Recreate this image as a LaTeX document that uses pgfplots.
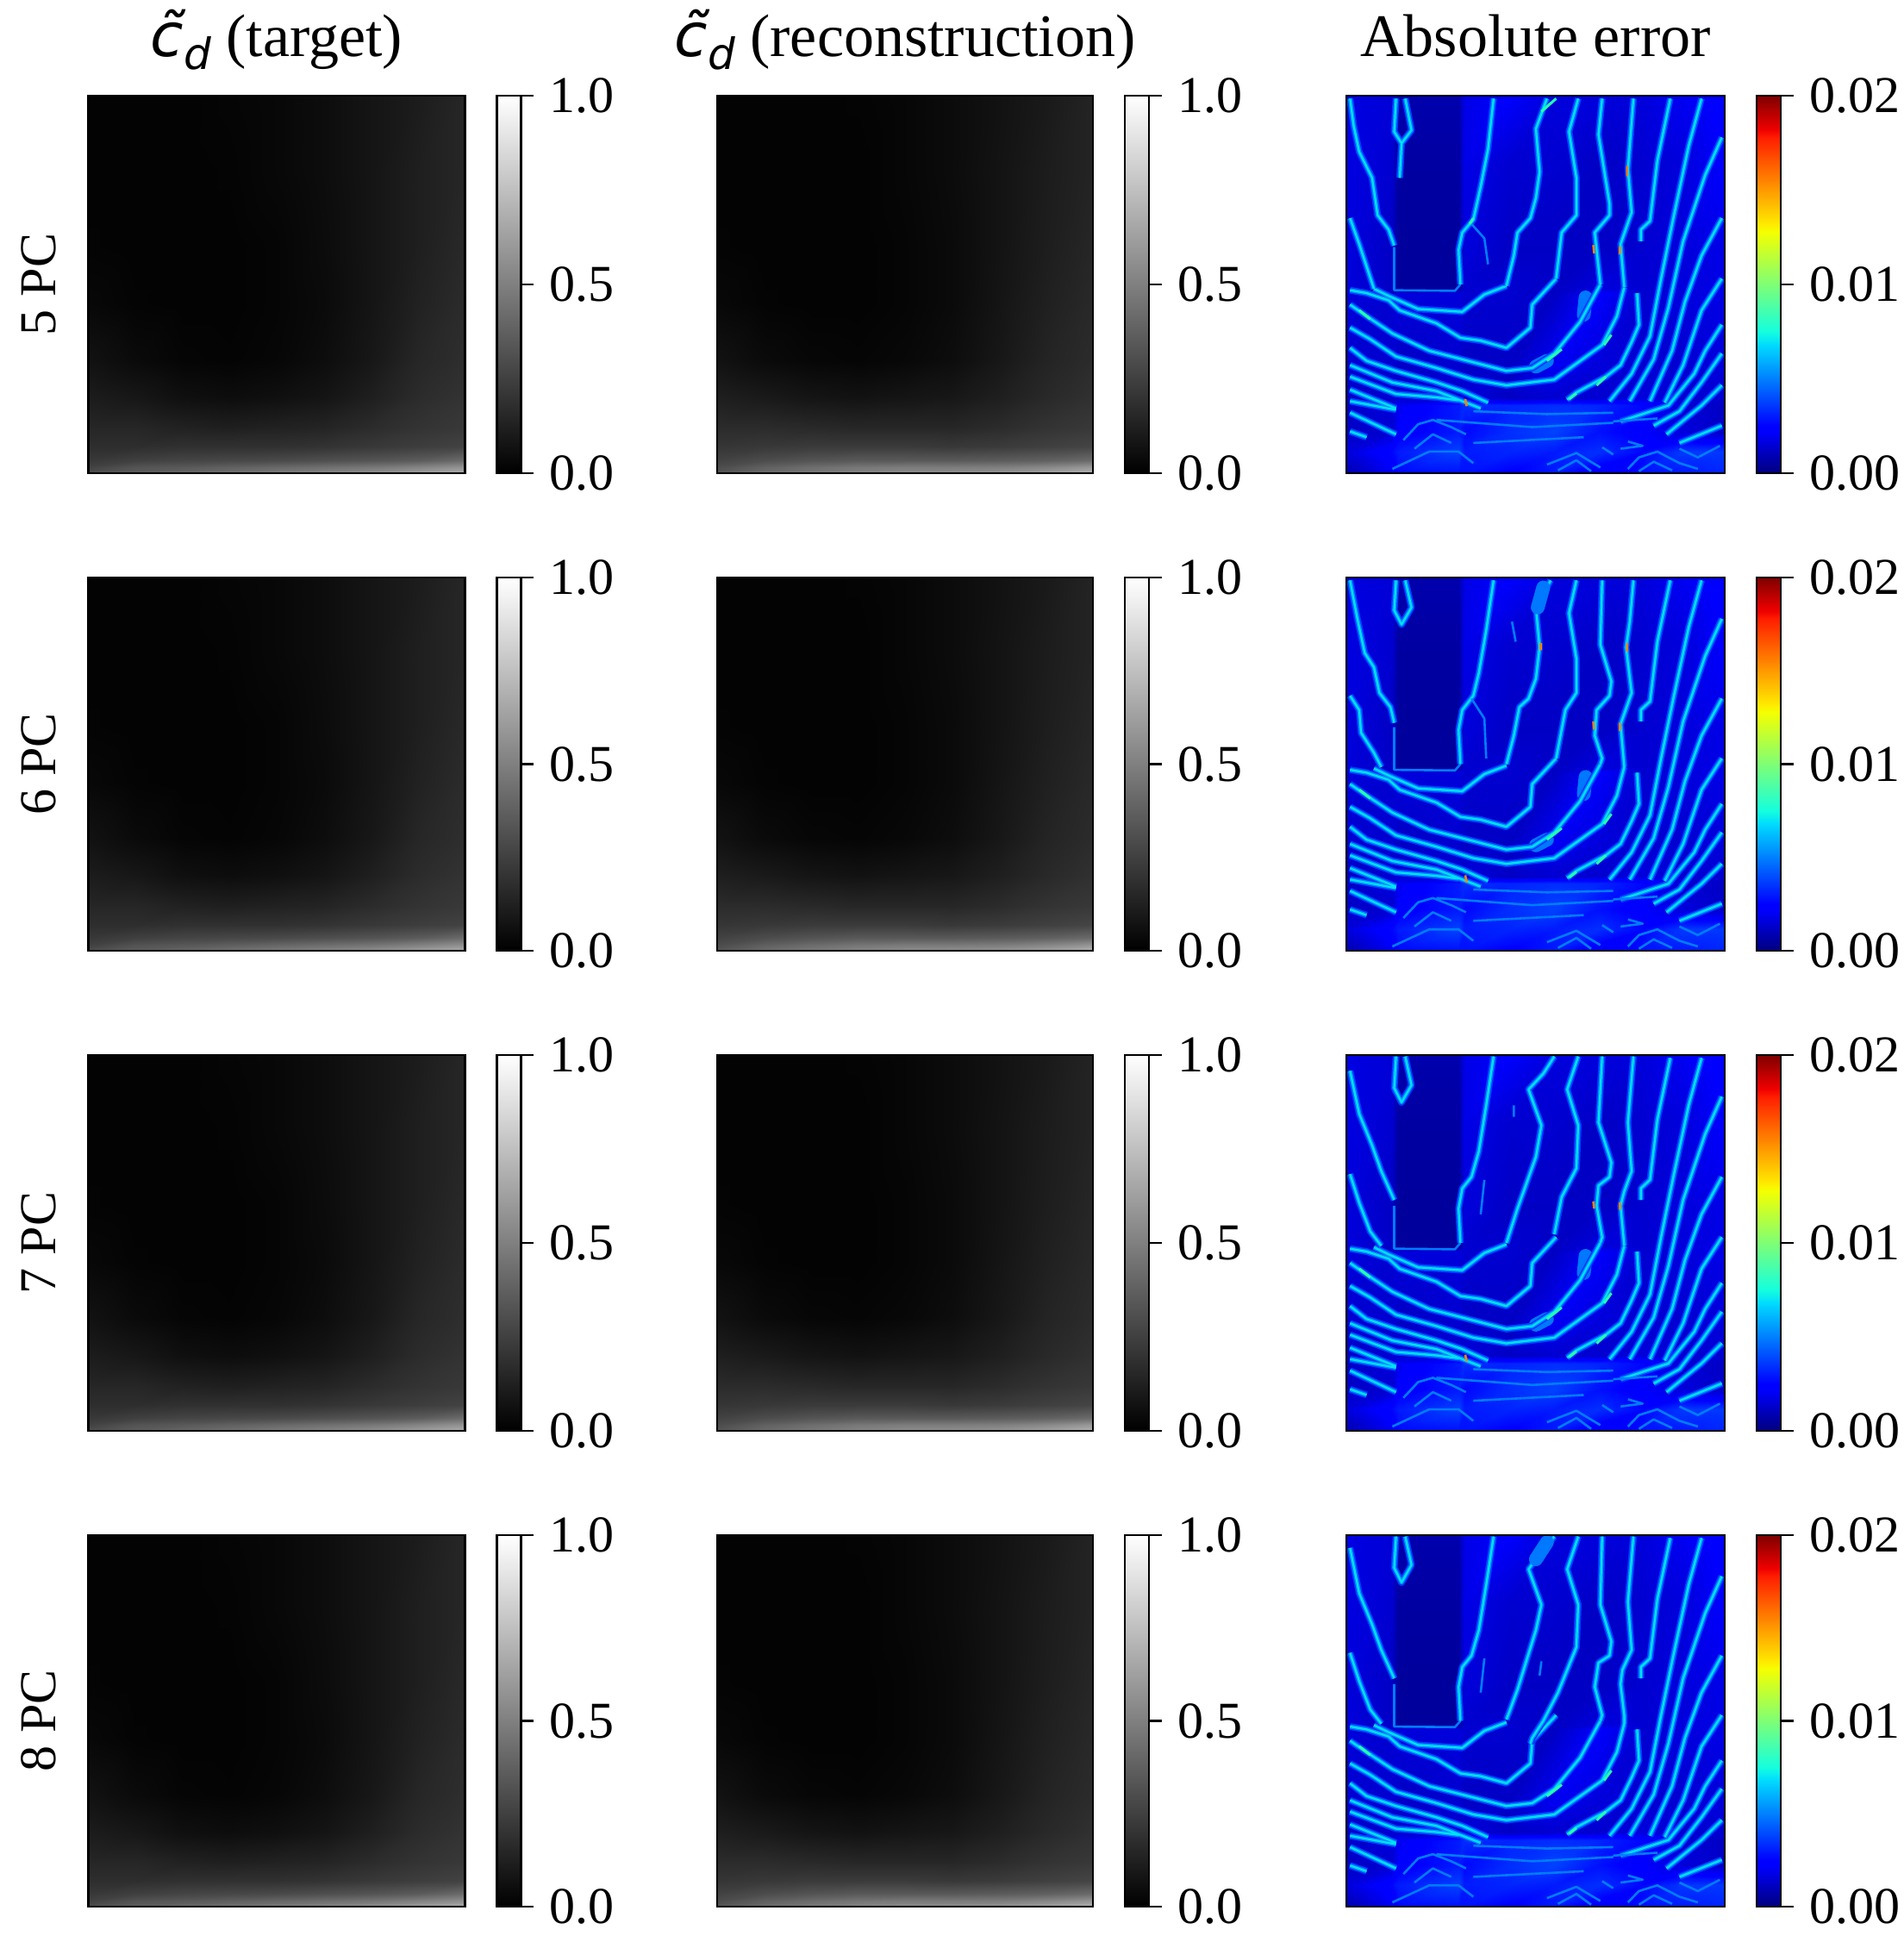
\documentclass[border=0pt]{standalone}
\usepackage{fontspec}
\usepackage{pgfplots}
\usepackage{pgfplotstable}
\pgfplotsset{compat=1.18}
\setmainfont{Liberation Serif}
\newfontfamily\dv{DejaVu Sans}
\newcommand{\fT}{\fontsize{35}{40}\selectfont}
\newcommand{\fK}{\fontsize{30}{34}\selectfont}
\newcommand{\cd}{{\dv\itshape c̃\raisebox{-0.22em}{\fontsize{25}{25}\selectfont d}}}

\pgfplotsset{
 colormap={mygray}{gray(0cm)=(0); gray(100cm)=(1)},
 colormap={myjet}{rgb255(0cm)=(0,0,127); rgb255(11cm)=(0,0,255); rgb255(12.5cm)=(0,0,255); rgb255(34cm)=(0,219,255); rgb255(37.5cm)=(20,255,222); rgb255(64cm)=(245,255,0); rgb255(66cm)=(255,234,0); rgb255(89cm)=(255,29,0); rgb255(91cm)=(240,0,0); rgb255(100cm)=(127,0,0)},
 base/.style n args={4}{at={(#1pt,-#2pt)},anchor=north west,scale only axis,width=#3pt,height=#4pt,
  y dir=reverse,xtick=\empty,ytick=\empty,axis on top,enlargelimits=false,
  axis line style={line width=1.4pt,black},
  title style={at={(0.5,1)},anchor=base,yshift=17pt,font=\fT,inner sep=0pt},
  ylabel style={at={(axis description cs:-0.087,0.5)},anchor=base,rotate=0,font=\fK,inner sep=0pt},
  colorbar,
  colorbar style={at={(parent axis.north east)},anchor=north west,xshift=10pt,scale only axis,
   width=14pt,height=#4pt,y dir=normal,enlargelimits=false,
   axis line style={line width=1.2pt,black},
   xtick=\empty,ytick pos=right,yticklabel pos=right,tick align=outside,
   major tick length=7.5pt,tick style={black,line width=1.2pt},
   yticklabel style={font=\fK,inner sep=0pt,anchor=west,xshift=9pt},
  }},
 gr/.style n args={4}{base={#1}{#2}{#3}{#4},colormap name=mygray,point meta min=0,point meta max=1,
   xmin=0,xmax=1,ymin=0,ymax=1,
   colorbar style={ytick={0,0.5,1},yticklabels={0.0,0.5,1.0}}},
 er/.style n args={4}{base={#1}{#2}{#3}{#4},colormap name=myjet,point meta min=0,point meta max=0.02,
   xmin=55,xmax=1083,ymin=65,ymax=1375,
   colorbar style={ytick={0,0.01,0.02},yticklabels={0.00,0.01,0.02},scaled y ticks=false}},
 glow/.style={color={rgb,255:red,0;green,55;blue,255},line width=4pt,line join=round,unbounded coords=jump,forget plot},
 midl/.style={color={rgb,255:red,0;green,140;blue,255},line width=2.4pt,line join=round,unbounded coords=jump,forget plot},
 core/.style={color={rgb,255:red,0;green,225;blue,250},line width=1.1pt,line join=round,unbounded coords=jump,forget plot},
 faintl/.style={color={rgb,255:red,0;green,125;blue,255},line width=1.3pt,line join=round,unbounded coords=jump,forget plot},
 hot/.style={color={rgb,255:red,40;green,255;blue,170},line width=1.5pt,unbounded coords=jump,forget plot},
 spot/.style={color={rgb,255:red,255;green,130;blue,0},line width=1.3pt,unbounded coords=jump,forget plot},
 blob/.style={color={rgb,255:red,0;green,120;blue,255},line width=8pt,line cap=round,unbounded coords=jump,forget plot},
 hm/.style={surf,shader=interp,mesh/cols=#1,forget plot},
}
\newcommand{\lns}[1]{\addplot[glow] coordinates {#1};\addplot[midl] coordinates {#1};\addplot[core] coordinates {#1};}

\pgfplotstableread{
x y v
0 0 .01
.125 0 .01
.25 0 .01
.375 0 .02
.5 0 .03
.625 0 .05
.75 0 .08
.875 0 .11
1 0 .15
0 .2 .01
.125 .2 .01
.25 .2 .01
.375 .2 .015
.5 .2 .03
.625 .2 .05
.75 .2 .08
.875 .2 .12
1 .2 .15
0 .4 .015
.125 .4 .01
.25 .4 .01
.375 .4 .01
.5 .4 .02
.625 .4 .045
.75 .4 .08
.875 .4 .12
1 .4 .16
0 .55 .03
.125 .55 .015
.25 .55 .01
.375 .55 .01
.5 .55 .02
.625 .55 .04
.75 .55 .08
.875 .55 .13
1 .55 .17
0 .7 .07
.125 .7 .04
.25 .7 .02
.375 .7 .015
.5 .7 .025
.625 .7 .05
.75 .7 .09
.875 .7 .15
1 .7 .18
0 .8 .11
.125 .8 .09
.25 .8 .06
.375 .8 .05
.5 .8 .06
.625 .8 .08
.75 .8 .12
.875 .8 .17
1 .8 .2
0 .88 .15
.125 .88 .15
.25 .88 .13
.375 .88 .12
.5 .88 .13
.625 .88 .14
.75 .88 .17
.875 .88 .2
1 .88 .22
0 .93 .18
.125 .93 .18
.25 .93 .19
.375 .93 .19
.5 .93 .19
.625 .93 .2
.75 .93 .22
.875 .93 .24
1 .93 .26
0 .965 .22
.125 .965 .25
.25 .965 .27
.375 .965 .28
.5 .965 .29
.625 .965 .31
.75 .965 .33
.875 .965 .36
1 .965 .42
0 .985 .26
.125 .985 .33
.25 .985 .35
.375 .985 .38
.5 .985 .41
.625 .985 .44
.75 .985 .47
.875 .985 .52
1 .985 .58
0 1 .3
.125 1 .36
.25 1 .4
.375 1 .44
.5 1 .48
.625 1 .52
.75 1 .56
.875 1 .62
1 1 .68
}\Tgt

\pgfplotstableread{
x y v
0 0 .01
.125 0 .01
.25 0 .01
.375 0 .015
.5 0 .025
.625 0 .045
.75 0 .07
.875 0 .1
1 0 .14
0 .2 .01
.125 .2 .01
.25 .2 .01
.375 .2 .01
.5 .2 .025
.625 .2 .045
.75 .2 .075
.875 .2 .11
1 .2 .14
0 .4 .015
.125 .4 .01
.25 .4 .01
.375 .4 .01
.5 .4 .02
.625 .4 .04
.75 .4 .075
.875 .4 .115
1 .4 .15
0 .55 .03
.125 .55 .015
.25 .55 .01
.375 .55 .01
.5 .55 .02
.625 .55 .04
.75 .55 .08
.875 .55 .125
1 .55 .16
0 .7 .07
.125 .7 .04
.25 .7 .025
.375 .7 .02
.5 .7 .03
.625 .7 .05
.75 .7 .09
.875 .7 .14
1 .7 .17
0 .8 .12
.125 .8 .1
.25 .8 .08
.375 .8 .07
.5 .8 .08
.625 .8 .09
.75 .8 .12
.875 .8 .16
1 .8 .19
0 .88 .17
.125 .88 .17
.25 .88 .16
.375 .88 .15
.5 .88 .15
.625 .88 .15
.75 .88 .17
.875 .88 .2
1 .88 .22
0 .93 .21
.125 .93 .22
.25 .93 .23
.375 .93 .23
.5 .93 .23
.625 .93 .22
.75 .93 .23
.875 .93 .25
1 .93 .27
0 .965 .26
.125 .965 .3
.25 .965 .33
.375 .965 .35
.5 .965 .35
.625 .965 .35
.75 .965 .36
.875 .965 .38
1 .965 .42
0 .985 .3
.125 .985 .38
.25 .985 .43
.375 .985 .47
.5 .985 .49
.625 .985 .49
.75 .985 .5
.875 .985 .54
1 .985 .6
0 1 .33
.125 1 .42
.25 1 .47
.375 1 .52
.5 1 .55
.625 1 .56
.75 1 .58
.875 1 .63
1 1 .7
}\Rec

\pgfplotstableread{
x y v
55 65 .0017
180 65 .0015
195 65 .0008
360 65 .0008
375 65 .0018
500 65 .0022
620 65 .0016
740 65 .0016
860 65 .0016
970 65 .0020
1083 65 .0024
55 300 .0017
180 300 .0014
195 300 .0006
360 300 .0006
375 300 .0018
500 300 .0014
620 300 .0014
740 300 .0012
860 300 .0014
970 300 .0016
1083 300 .0022
55 600 .0016
180 600 .0012
195 600 .0005
360 600 .0005
375 600 .0016
500 600 .0012
620 600 .0012
740 600 .0012
860 600 .0014
970 600 .0016
1083 600 .0018
55 735 .0016
180 735 .0012
195 735 .0005
360 735 .0005
375 735 .0014
500 735 .0014
620 735 .0012
740 735 .0016
860 735 .0014
970 735 .0016
1083 735 .0018
55 750 .0016
180 750 .0014
195 750 .0016
360 750 .0016
375 750 .0014
500 750 .0014
620 750 .0012
740 750 .0022
860 750 .0014
970 750 .0016
1083 750 .0018
55 1000 .0014
180 1000 .0014
195 1000 .0012
360 1000 .0014
375 1000 .0012
500 1000 .0012
620 1000 .0020
740 1000 .0016
860 1000 .0014
970 1000 .0014
1083 1000 .0016
55 1115 .0012
180 1115 .0014
195 1115 .0014
360 1115 .0014
375 1115 .0016
500 1115 .0012
620 1115 .0014
740 1115 .0014
860 1115 .0016
970 1115 .0014
1083 1115 .0014
55 1140 .0012
180 1140 .0016
195 1140 .0020
360 1140 .0030
375 1140 .0034
500 1140 .0032
620 1140 .0034
740 1140 .0032
860 1140 .0026
970 1140 .0014
1083 1140 .0012
55 1230 .0012
180 1230 .0014
195 1230 .0022
360 1230 .0030
375 1230 .0026
500 1230 .0034
620 1230 .0038
740 1230 .0028
860 1230 .0022
970 1230 .0016
1083 1230 .0012
55 1300 .0016
180 1300 .0026
195 1300 .0030
360 1300 .0038
375 1300 .0030
500 1300 .0032
620 1300 .0030
740 1300 .0034
860 1300 .0026
970 1300 .0036
1083 1300 .0036
55 1375 .0008
180 1375 .0020
195 1375 .0026
360 1375 .0028
375 1375 .0028
500 1375 .0024
620 1375 .0030
740 1375 .0020
860 1375 .0028
970 1375 .0030
1083 1375 .0032
}\Bg

% ripples shared by the four error panels
\newcommand{\Blobs}{\addplot[blob] coordinates {(705,765)(700,825)(0,nan)(600,985)(570,1005)};}
\newcommand{\Shared}{%
\lns{(490,725)(430,755)(370,815)(250,805)(170,760)(130,735)(0,nan)
(625,700)(560,790)(555,870)(490,940)(420,915)(365,905)(300,855)(200,810)(170,775)(110,750)(65,740)(0,nan)
(745,720)(690,850)(620,960)(560,1010)(490,1020)(400,990)(280,950)(180,890)(110,830)(65,790)(0,nan)
(810,730)(790,830)(750,930)(620,1050)(490,1070)(400,1050)(300,1010)(190,970)(120,910)(65,870)(0,nan)
(65,940)(110,985)(190,1020)(300,1060)(370,1090)(440,1130)(0,nan)
(65,1000)(180,1060)(300,1090)(370,1125)(420,1150)(0,nan)
(65,1040)(190,1100)(300,1112)(360,1122)(0,nan)
(65,1085)(190,1150)(0,nan)
(65,1125)(190,1155)(0,nan)
(65,1165)(190,1240)(0,nan)
(65,1230)(110,1250)(0,nan)
(655,1120)(680,1095)(760,1040)(800,1000)(830,920)(850,860)(845,750)(0,nan)
(935,75)(900,290)(880,500)(855,530)(855,570)(0,nan)
(1020,75)(985,240)(945,480)(910,700)(880,900)(830,1030)(770,1125)(0,nan)
(1075,210)(1030,340)(970,570)(930,800)(890,980)(825,1125)(0,nan)
(1075,490)(1020,620)(975,780)(940,950)(880,1125)(0,nan)
(1075,700)(1020,810)(970,1000)(920,1130)(0,nan)
(1075,860)(1030,950)(1000,1030)(930,1140)(800,1195)(0,nan)
(1075,960)(1020,1060)(960,1160)(890,1210)(0,nan)
(1075,1070)(1020,1140)(925,1240)(0,nan)
(1075,1210)(960,1270)}
\addplot[faintl] coordinates {(365,720)(350,742)(185,740)(185,590)(0,nan)
(210,1260)(250,1205)(290,1190)(340,1215)(380,1240)(0,nan)
(240,1290)(290,1240)(340,1270)(0,nan)
(180,1360)(280,1300)(360,1300)(400,1340)(0,nan)
(600,1345)(680,1305)(745,1355)(0,nan)
(630,1365)(680,1330)(720,1368)(0,nan)
(820,1360)(850,1320)(900,1300)(960,1340)(1010,1360)(0,nan)
(850,1368)(890,1335)(940,1365)(0,nan)
(820,1265)(860,1280)(800,1290)(0,nan)
(750,1285)(780,1310)(0,nan)
(960,1290)(1010,1320)(1070,1280)(0,nan)
(400,1160)(600,1170)(780,1165)(0,nan)
(300,1190)(560,1215)(780,1200)(0,nan)
(780,1195)(900,1185)(0,nan)
(400,1270)(550,1260)(700,1250)};
\addplot[hot] coordinates {(90,810)(120,840)(0,nan)(755,930)(775,895)(0,nan)(600,985)(640,945)(0,nan)(660,1118)(680,1098)(0,nan)(735,1070)(760,1040)};
}
\newcommand{\TopA}{\lns{(65,75)(75,170)(90,260)(125,350)(140,480)(170,530)(185,585)(0,nan)
(190,75)(185,190)(205,230)(200,350)(0,nan)(215,75)(232,185)(205,230)(0,nan)
(455,75)(440,250)(420,380)(400,495)(370,540)(360,600)(365,720)(0,nan)
(600,75)(570,180)(580,330)(570,420)(555,490)(520,540)(510,620)(490,725)(0,nan)
(65,490)(90,580)(130,735)(0,nan)
(685,75)(660,190)(680,350)(680,480)(640,540)(625,700)(0,nan)
(750,75)(740,200)(770,440)(770,480)(730,540)(745,720)(0,nan)
(835,75)(820,320)(830,470)(800,580)(810,730)}
\addplot[faintl] coordinates {(395,510)(430,560)(440,650)};
\addplot[hot] coordinates {(625,75)(585,120)(0,nan)(400,490)(390,510)};
\addplot[spot] coordinates {(378,1118)(382,1142)(0,nan)(726,583)(728,612)(0,nan)(798,588)(798,616)(0,nan)(818,308)(818,345)};
}
\newcommand{\TopB}{\lns{(65,75)(85,210)(105,330)(130,380)(145,470)(175,520)(185,575)(0,nan)
(190,75)(185,180)(205,230)(232,170)(215,75)(0,nan)
(65,480)(90,530)(95,610)(130,680)(150,730)(0,nan)
(455,75)(435,250)(415,400)(400,480)(370,530)(360,600)(365,720)(0,nan)
(610,75)(570,170)(580,310)(570,420)(550,490)(525,520)(510,620)(490,720)(0,nan)
(680,75)(660,190)(680,350)(680,470)(650,530)(625,700)(0,nan)
(750,75)(745,300)(775,430)(770,480)(735,530)(730,620)(750,700)(745,720)(0,nan)
(835,75)(825,220)(815,310)(830,470)(800,580)(810,730)}
\addplot[faintl] coordinates {(505,220)(515,290)(0,nan)(395,490)(430,560)(435,700)};
\addplot[blob] coordinates {(590,100)(575,170)};
\addplot[spot] coordinates {(378,1110)(382,1135)(0,nan)(726,570)(728,598)(0,nan)(798,575)(798,603)(0,nan)(583,295)(583,320)(0,nan)(818,295)(818,325)};
}
\newcommand{\TopC}{\lns{(65,120)(90,270)(125,380)(150,470)(185,570)(0,nan)
(190,70)(185,180)(205,230)(232,170)(215,70)(0,nan)
(65,480)(90,580)(120,680)(150,730)(0,nan)
(455,70)(435,240)(415,400)(395,490)(370,530)(360,600)(365,720)(0,nan)
(620,70)(590,130)(550,185)(585,310)(570,420)(520,600)(490,720)(0,nan)
(685,70)(655,185)(685,310)(680,460)(640,560)(620,690)(0,nan)
(750,70)(740,300)(775,440)(770,490)(740,520)(735,590)(750,700)(745,720)(0,nan)
(835,70)(820,300)(830,470)(810,540)(800,590)(810,730)}
\addplot[faintl] coordinates {(510,240)(510,280)(0,nan)(430,500)(420,620)};
\addplot[spot] coordinates {(378,1110)(382,1132)(0,nan)(726,575)(728,600)(0,nan)(798,578)(798,604)};
}
\newcommand{\TopD}{\lns{(65,110)(90,270)(125,380)(150,470)(185,570)(0,nan)
(190,70)(185,180)(205,232)(232,170)(215,70)(0,nan)
(65,480)(90,580)(120,680)(150,730)(0,nan)
(455,70)(435,240)(415,400)(395,490)(370,530)(360,600)(365,720)(0,nan)
(620,70)(570,150)(550,185)(585,310)(570,400)(520,610)(490,715)(0,nan)
(685,70)(655,185)(685,310)(680,460)(630,620)(590,720)(560,780)(555,800)(0,nan)
(750,70)(745,310)(775,440)(770,490)(740,515)(730,600)(750,700)(745,720)(0,nan)
(835,70)(820,300)(830,470)(805,540)(800,590)(810,700)(810,730)}
\addplot[blob] coordinates {(600,90)(570,150)};
\addplot[faintl] coordinates {(430,500)(420,620)(0,nan)(585,510)(580,560)};
}

\begin{document}
\begin{tikzpicture}
\path[use as bounding box] (0,0) rectangle (1104pt,-1130pt);
% ---- row 1
\begin{axis}[gr={51.2}{55.5}{218.5}{219},title={\cd{} (target)},ylabel={5 PC}]
\addplot[hm=9,point meta=\thisrow{v}] table[x=x,y=y] \Tgt;
\end{axis}
\begin{axis}[gr={416}{55.5}{218}{219},title={\cd{} (reconstruction)}]
\addplot[hm=9,point meta=\thisrow{v}] table[x=x,y=y] \Rec;
\end{axis}
\begin{axis}[er={781}{55.5}{219.5}{219},title={Absolute error}]
\addplot[hm=11,point meta=\thisrow{v}] table[x=x,y=y] \Bg;
\Blobs\Shared\TopA
\end{axis}
% ---- row 2
\begin{axis}[gr={51.2}{335}{218.5}{216.5},ylabel={6 PC}]
\addplot[hm=9,point meta=\thisrow{v}] table[x=x,y=y] \Tgt;
\end{axis}
\begin{axis}[gr={416}{335}{218}{216.5}]
\addplot[hm=9,point meta=\thisrow{v}] table[x=x,y=y] \Rec;
\end{axis}
\begin{axis}[er={781}{335}{219.5}{216.5}]
\addplot[hm=11,point meta=\thisrow{v}] table[x=x,y=y] \Bg;
\Blobs\Shared\TopB
\end{axis}
% ---- row 3
\begin{axis}[gr={51.2}{612}{218.5}{218},ylabel={7 PC}]
\addplot[hm=9,point meta=\thisrow{v}] table[x=x,y=y] \Tgt;
\end{axis}
\begin{axis}[gr={416}{612}{218}{218}]
\addplot[hm=9,point meta=\thisrow{v}] table[x=x,y=y] \Rec;
\end{axis}
\begin{axis}[er={781}{612}{219.5}{218}]
\addplot[hm=11,point meta=\thisrow{v}] table[x=x,y=y] \Bg;
\Blobs\Shared\TopC
\end{axis}
% ---- row 4
\begin{axis}[gr={51.2}{890.5}{218.5}{215.5},ylabel={8 PC}]
\addplot[hm=9,point meta=\thisrow{v}] table[x=x,y=y] \Tgt;
\end{axis}
\begin{axis}[gr={416}{890.5}{218}{215.5}]
\addplot[hm=9,point meta=\thisrow{v}] table[x=x,y=y] \Rec;
\end{axis}
\begin{axis}[er={781}{890.5}{219.5}{215.5}]
\addplot[hm=11,point meta=\thisrow{v}] table[x=x,y=y] \Bg;
\Shared\TopD
\end{axis}
\end{tikzpicture}
\end{document}
